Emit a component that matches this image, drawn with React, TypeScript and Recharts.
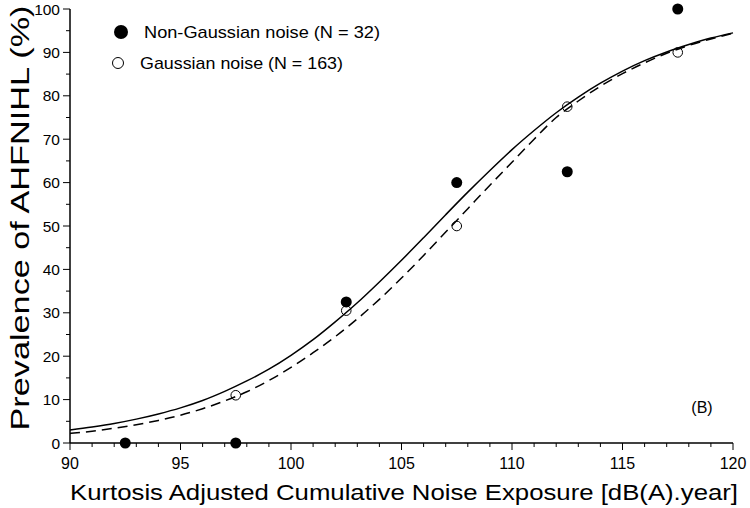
import { ComposedChart, Line, Scatter, XAxis, YAxis, Label } from 'recharts';

// measured points
const nonGaussX = [92.5, 97.5, 102.5, 107.5, 112.5, 117.5];
const nonGaussY = [0, 0, 32.5, 60, 62.5, 100];
const gaussX = [97.5, 102.5, 107.5, 112.5, 117.5];
const gaussY = [11, 30.5, 50, 77.5, 90];

// fitted curves, one value per dB(A).year
const curveX = [
  90, 91, 92, 93, 94, 95, 96, 97, 98, 99, 100, 101, 102, 103, 104, 105, 106, 107, 108, 109, 110,
  111, 112, 113, 114, 115, 116, 117, 118, 119, 120,
];
const nonGaussFit = [
  3.0, 3.7, 4.5, 5.5, 6.7, 8.1, 9.8, 11.9, 14.3, 17.0, 20.2, 23.8, 27.9, 32.3, 37.1, 42.1, 47.3,
  52.6, 57.8, 62.8, 67.6, 72.0, 76.1, 79.7, 82.9, 85.7, 88.1, 90.1, 91.8, 93.3, 94.5,
];
const gaussFit = [
  2.2, 2.7, 3.4, 4.2, 5.2, 6.4, 7.9, 9.7, 11.8, 14.4, 17.4, 20.8, 24.5, 28.6, 33.1, 38.0, 43.2,
  48.6, 54.0, 59.4, 64.7, 70.0, 75.0, 78.8, 82.2, 85.1, 87.6, 89.8, 91.6, 93.1, 94.4,
];

const xTicks = curveX;
const yTicks = [0, 5, 10, 15, 20, 25, 30, 35, 40, 45, 50, 55, 60, 65, 70, 75, 80, 85, 90, 95, 100];

const nonGaussPts = nonGaussX.map((x, i) => ({ x, y: nonGaussY[i] }));
const gaussPts = gaussX.map((x, i) => ({ x, y: gaussY[i] }));
const nonGaussLine = curveX.map((x, i) => ({ x, y: nonGaussFit[i] }));
const gaussLine = curveX.map((x, i) => ({ x, y: gaussFit[i] }));

const FONT = '"Liberation Sans", Arial, sans-serif';

const XTick = ({ x, y, payload }: any) => {
  const major = payload.value % 5 === 0;
  return (
    <g>
      <line x1={x} x2={x} y1={y} y2={y + (major ? 7 : 4)} stroke="#000" strokeWidth={1} />
      {major && (
        <text x={x} y={y + 26} textAnchor="middle" fontSize={16} fontFamily={FONT} fill="#000">
          {payload.value}
        </text>
      )}
    </g>
  );
};

const YTick = ({ x, y, payload }: any) => {
  const major = payload.value % 10 === 0;
  return (
    <g>
      <line x1={x - (major ? 7 : 4)} x2={x} y1={y} y2={y} stroke="#000" strokeWidth={1} />
      {major && (
        <text x={x - 10} y={y + 5.5} textAnchor="end" fontSize={15.5} fontFamily={FONT} fill="#000">
          {payload.value}
        </text>
      )}
    </g>
  );
};

const LegendBox = () => (
  <svg
    width={300}
    height={60}
    style={{ position: 'absolute', left: 112, top: 18, fontFamily: FONT }}
  >
    <circle cx={9} cy={14} r={7} fill="#000" />
    <text x={32} y={20} fontSize={17} fill="#000" textLength={236} lengthAdjust="spacingAndGlyphs">
      Non-Gaussian noise (N = 32)
    </text>
    <circle cx={6} cy={45} r={5.5} fill="none" stroke="#000" strokeWidth={1} />
    <text x={28} y={51} fontSize={17} fill="#000" textLength={203} lengthAdjust="spacingAndGlyphs">
      Gaussian noise (N = 163)
    </text>
  </svg>
);

export default function App() {
  return (
    <div style={{ position: 'absolute', left: 0, top: 0, width: 750, height: 508, background: '#fff' }}>
      <ComposedChart
        width={750}
        height={508}
        margin={{ top: 9, right: 17, left: 0, bottom: 0 }}
      >
        <XAxis
          type="number"
          dataKey="x"
          domain={[90, 120]}
          ticks={xTicks}
          interval={0}
          tick={<XTick />}
          tickLine={false}
          tickSize={0}
          tickMargin={0}
          height={65}
          axisLine={{ stroke: '#000', strokeWidth: 1.5 }}
        >
          <Label
            content={() => (
              <text
                x={404}
                y={500}
                textAnchor="middle"
                fontSize={22}
                fontFamily={FONT}
                fill="#000"
                textLength={668}
                lengthAdjust="spacingAndGlyphs"
              >
                Kurtosis Adjusted Cumulative Noise Exposure [dB(A).year]
              </text>
            )}
          />
        </XAxis>
        <YAxis
          type="number"
          dataKey="y"
          domain={[0, 100]}
          ticks={yTicks}
          interval={0}
          tick={<YTick />}
          tickLine={false}
          tickSize={0}
          tickMargin={0}
          width={70}
          axisLine={{ stroke: '#000', strokeWidth: 1.5 }}
        >
          <Label
            content={() => (
              <text
                x={0}
                y={0}
                transform="translate(29 218) rotate(-90)"
                textAnchor="middle"
                fontSize={25}
                fontFamily={FONT}
                fill="#000"
                textLength={425}
                lengthAdjust="spacingAndGlyphs"
              >
                Prevalence of AHFNIHL (%)
              </text>
            )}
          />
        </YAxis>
        <Line
          data={nonGaussLine}
          dataKey="y"
          type="monotone"
          stroke="#000"
          strokeWidth={1.5}
          dot={false}
          isAnimationActive={false}
        />
        <Line
          data={gaussLine}
          dataKey="y"
          type="monotone"
          stroke="#000"
          strokeWidth={1.5}
          strokeDasharray="10 6"
          dot={false}
          isAnimationActive={false}
        />
        <Scatter
          data={nonGaussPts}
          dataKey="y"
          isAnimationActive={false}
          shape={(p: any) => <circle cx={p.cx} cy={p.cy} r={5.5} fill="#000" />}
        />
        <Scatter
          data={gaussPts}
          dataKey="y"
          isAnimationActive={false}
          shape={(p: any) => (
            <circle cx={p.cx} cy={p.cy} r={4.8} fill="none" stroke="#000" strokeWidth={1} />
          )}
        />
        <text x={702} y={413} textAnchor="middle" fontSize={16} fontFamily={FONT} fill="#000">
          (B)
        </text>
      </ComposedChart>
      <LegendBox />
    </div>
  );
}
